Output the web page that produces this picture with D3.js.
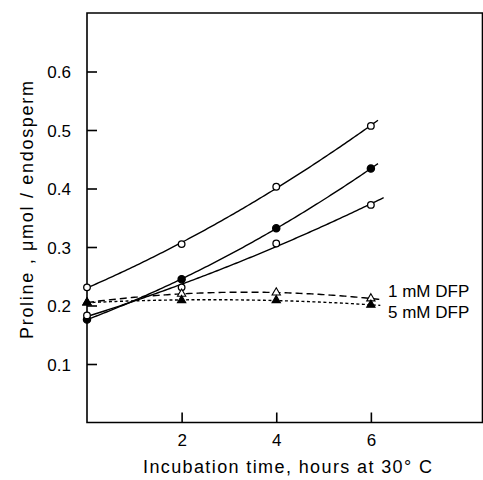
<!DOCTYPE html>
<html><head><meta charset="utf-8">
<script src="https://cdn.jsdelivr.net/npm/d3@7"></script>
<style>body{margin:0;background:#fff}svg{display:block}text{font-family:"Liberation Sans",Arial,sans-serif;fill:#000}</style>
</head><body><svg id="c" width="483" height="480"></svg>
<script>
const hours = [0, 2, 4, 6];
const xTicks = [2, 4, 6];
const yTicks = [0.1, 0.2, 0.3, 0.4, 0.5, 0.6];
const serA = [0.231, 0.305, 0.403, 0.507];   // open circles, top
const serB = [0.176, 0.245, 0.332, 0.434];   // filled circles
const serC = [0.183, 0.231, 0.306, 0.372];   // open circles, lower
const serD = [0.205, 0.220, 0.222, 0.212];   // open triangles, 1 mM DFP
const serE = [0.205, 0.209, 0.209, 0.201];   // filled triangles, 5 mM DFP
const fitEnd = [6.15, 6.15, 6.27, 6.2, 6.2];
const seriesLabels = ["1 mM DFP", "5 mM DFP"];

const series = [
  {v: serA, marker: "circle", fill: "#fff", dash: null, end: fitEnd[0]},
  {v: serB, marker: "circle", fill: "#000", dash: null, end: fitEnd[1]},
  {v: serC, marker: "circle", fill: "#fff", dash: null, end: fitEnd[2]},
  {v: serD, marker: "triangle", fill: "#fff", dash: "7,4", end: fitEnd[3]},
  {v: serE, marker: "triangle", fill: "#000", dash: "3,2.5", end: fitEnd[4]}
];

const svg = d3.select("#c");
const x = d3.scaleLinear().domain([0, 8.37]).range([87, 483]);
const y = d3.scaleLinear().domain([0, 0.7]).range([422.5, 13]);

// frame
svg.append("path").attr("d", `M${x(0)},${y(0.7)}H482.5V${y(0)}H${x(0)}Z`)
  .attr("fill", "none").attr("stroke", "#000").attr("stroke-width", 1.6);

// y axis ticks (inward)
const yAxis = d3.axisLeft(y).tickValues(yTicks).tickSize(-10).tickPadding(16)
  .tickFormat(d => d3.format(".1f")(d));
const ya = svg.append("g").attr("transform", `translate(${x(0)},0)`).call(yAxis);
ya.select(".domain").remove();
ya.selectAll("line").attr("stroke-width", 1.6);
ya.selectAll("text").style("font-size", "17px").attr("dy", "0.36em");

const xAxis = d3.axisBottom(x).tickValues(xTicks).tickSize(-10).tickPadding(11);
const xa = svg.append("g").attr("transform", `translate(0,${y(0)})`).call(xAxis);
xa.select(".domain").remove();
xa.selectAll("line").attr("stroke-width", 1.6);
xa.selectAll("text").style("font-size", "17px");

// quadratic least-squares fit
function quadFit(xs, ys) {
  let S = [[0,0,0],[0,0,0],[0,0,0]], T = [0,0,0];
  xs.forEach((xv, i) => {
    const p = [1, xv, xv*xv];
    for (let a = 0; a < 3; a++) { T[a] += p[a]*ys[i]; for (let b = 0; b < 3; b++) S[a][b] += p[a]*p[b]; }
  });
  const M = S.map((r, i) => [...r, T[i]]);
  for (let i = 0; i < 3; i++) {
    for (let k = i+1; k < 3; k++) {
      const f = M[k][i]/M[i][i];
      for (let j = i; j < 4; j++) M[k][j] -= f*M[i][j];
    }
  }
  const c = [0,0,0];
  for (let i = 2; i >= 0; i--) {
    let s = M[i][3];
    for (let j = i+1; j < 3; j++) s -= M[i][j]*c[j];
    c[i] = s/M[i][i];
  }
  return t => c[0] + c[1]*t + c[2]*t*t;
}

const line = d3.line().x(d => x(d[0])).y(d => y(d[1]));
series.forEach(s => {
  const f = quadFit(hours, s.v);
  const pts = d3.range(0, s.end + 1e-9, 0.05).map(t => [t, f(t)]);
  pts.push([s.end, f(s.end)]);
  svg.append("path").attr("d", line(pts)).attr("fill", "none")
    .attr("stroke", "#000").attr("stroke-width", 1.4)
    .attr("stroke-dasharray", s.dash);
});

const tri = d3.symbol().type(d3.symbolTriangle).size(30);
series.forEach(s => {
  const gg = svg.append("g");
  hours.forEach((h, i) => {
    if (s.marker === "circle") {
      gg.append("circle").attr("cx", x(h)).attr("cy", y(s.v[i]))
        .attr("r", s.fill === "#000" ? 3.6 : 3.3)
        .attr("fill", s.fill).attr("stroke", "#000").attr("stroke-width", 1.3);
    } else {
      gg.append("path").attr("d", tri).attr("transform", `translate(${x(h)},${y(s.v[i])})`)
        .attr("fill", s.fill).attr("stroke", "#000").attr("stroke-width", 1.1);
    }
  });
});

// series labels
svg.append("text").attr("x", 388).attr("y", 297).style("font-size", "17px").text(seriesLabels[0]);
svg.append("text").attr("x", 388).attr("y", 318).style("font-size", "17px").text(seriesLabels[1]);

// axis titles
svg.append("text").attr("x", 287.5).attr("y", 473).attr("text-anchor", "middle")
  .style("font-size", "18px").attr("textLength", 289).attr("lengthAdjust", "spacing")
  .text("Incubation time, hours at 30° C");
svg.append("text").attr("transform", "translate(33,210) rotate(-90)").attr("text-anchor", "middle")
  .style("font-size", "18px").attr("textLength", 258).attr("lengthAdjust", "spacing")
  .text("Proline ,  μmol / endosperm");
</script></body></html>
